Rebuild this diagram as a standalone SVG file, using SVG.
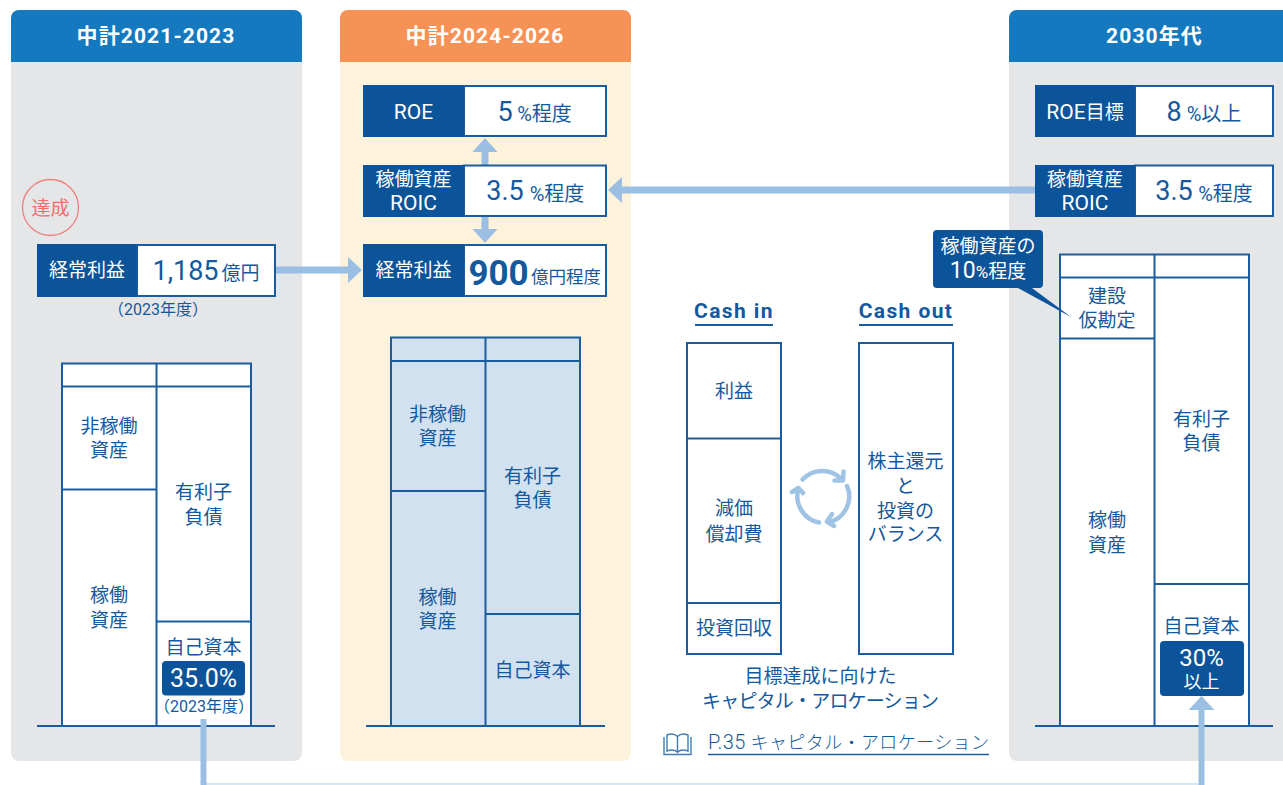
<svg xmlns="http://www.w3.org/2000/svg" width="1283" height="785" viewBox="0 0 1283 785">
<style>
text{font-family:Roboto,"Noto Sans CJK JP",sans-serif;fill:#14599e;text-anchor:middle}
.hd{font-size:21px;font-weight:700;fill:#fff;letter-spacing:1.1px}
.w{fill:#fff;font-size:19px}
.lat{font-size:21px}
.t{font-size:19px}
.big{font-size:27px}
.u{font-size:20px}
.s{font-size:16px}
.ch{font-size:21px;font-weight:700;letter-spacing:1.4px}
.dark{fill:#0c5499}
.box{fill:#fff;stroke:#1a5c9e;stroke-width:2}
.ln{stroke:#1a5c9e;stroke-width:2;fill:none}
.ar{stroke:#9abfe2;stroke-width:7;fill:none}
.af{fill:#9abfe2}
.cy{stroke:#9fc3e4;stroke-width:4.5;fill:none;stroke-linecap:round;stroke-linejoin:round}
</style>
<rect width="1283" height="785" fill="#fff"/>
<g id="panel-2021">
<rect x="11" y="10" width="291" height="751" rx="8" fill="#e5e6e8"/>
<path d="M11 62V18a8 8 0 0 1 8-8H294a8 8 0 0 1 8 8V62Z" fill="#1579bf"/>
<text class="hd" x="156" y="43">中計2021-2023</text>
</g>
<g id="panel-2024">
<rect x="340" y="10" width="291" height="751" rx="8" fill="#fdf2dc"/>
<path d="M340 62V18a8 8 0 0 1 8-8H623a8 8 0 0 1 8 8V62Z" fill="#f79256"/>
<text class="hd" x="485" y="43">中計2024-2026</text>
</g>
<g id="panel-2030">
<path d="M1283 10H1017a8 8 0 0 0-8 8V753a8 8 0 0 0 8 8H1283Z" fill="#e5e6e8"/>
<path d="M1009 62V18a8 8 0 0 1 8-8H1283V62Z" fill="#1579bf"/>
<text class="hd" x="1154.500" y="43">2030年代</text>
</g>
<g id="connectors">
<path class="ar" d="M275 270H350"/><path class="af" d="M362 270L348 257V283Z"/>
<path class="ar" d="M1035 190H620"/><path class="af" d="M608 190L622 177V203Z"/>
<path class="ar" d="M485 165V150"/><path class="af" d="M485 138L472.500 152H497.500Z"/>
<path class="ar" d="M485 217V231"/><path class="af" d="M485 243L472.500 229H497.500Z"/>
<path d="M206 784H1199" stroke="#d6e6f5" stroke-width="2" fill="none"/>
</g>
<g id="tassei">
<circle cx="50.500" cy="207.500" r="28" fill="none" stroke="#f08080" stroke-width="1.300"/>
<text x="50.500" y="215" font-size="19" style="fill:#ee6f6f">達成</text>
</g>
<g id="kpi-keijo-2023">
<rect class="box" x="137" y="245" width="138" height="51"/><rect class="dark" x="37" y="244" width="100" height="53"/>
<text class="w" x="87" y="276.500">経常利益</text>
<text class="big" x="185.500" y="280">1,185</text><text class="t" x="240.500" y="280">億円</text>
<text class="s" x="158" y="315">（2023年度）</text>
</g>
<g id="kpi-roe-2024">
<rect class="box" x="464" y="86" width="142" height="50"/><rect class="dark" x="363" y="85" width="101" height="52"/>
<text class="w lat" x="413.500" y="119">ROE</text>
<text class="big" x="505" y="121">5</text><text class="u" x="544.500" y="121">%程度</text>
</g>
<g id="kpi-roic-2024">
<rect class="box" x="464" y="165.500" width="142" height="50.500"/><rect class="dark" x="363" y="165" width="101" height="52"/>
<text class="w" x="413.500" y="185.500">稼働資産</text><text class="w lat" x="413.500" y="210">ROIC</text>
<text class="big" x="505" y="200">3.5</text><text class="u" x="557" y="201">%程度</text>
</g>
<g id="kpi-keijo-2024">
<rect class="box" x="464" y="245" width="142" height="51"/><rect class="dark" x="363" y="244" width="101" height="53"/>
<text class="w" x="413.500" y="276.500">経常利益</text>
<text x="498.500" y="285" font-size="35" font-weight="700">900</text><text x="566" y="283" font-size="17.500">億円程度</text>
</g>
<g id="kpi-roe-2030">
<rect class="box" x="1135" y="86" width="138" height="50"/><rect class="dark" x="1035" y="85" width="100" height="52"/>
<text class="w" x="1085" y="118.500"><tspan class="lat">ROE</tspan>目標</text>
<text class="big" x="1174" y="121">8</text><text class="u" x="1214" y="121">%以上</text>
</g>
<g id="kpi-roic-2030">
<rect class="box" x="1135" y="165.500" width="138" height="50.500"/><rect class="dark" x="1035" y="165" width="100" height="52"/>
<text class="w" x="1085" y="185.500">稼働資産</text><text class="w lat" x="1085" y="210">ROIC</text>
<text class="big" x="1174" y="200">3.5</text><text class="u" x="1225.500" y="201">%程度</text>
</g>
<g id="bs-2021">
<rect class="box" x="62" y="363.500" width="189" height="362.500"/>
<path class="ln" d="M156.500 363V726M62 386.500H251M62 489.500H156.500M156.500 621.500H251M37 726H275"/>
<text class="t" x="109" y="433">非稼働</text><text class="t" x="109" y="457">資産</text>
<text class="t" x="109" y="602">稼働</text><text class="t" x="109" y="627">資産</text>
<text class="t" x="203.500" y="499">有利子</text><text class="t" x="203.500" y="523.500">負債</text>
<text class="t" x="203.500" y="653.500">自己資本</text>
<rect class="dark" x="162" y="661" width="83" height="34.500" rx="4"/>
<text x="203.500" y="687" font-size="25" style="fill:#fff">35.0%</text>
<text class="s" x="204" y="712">（2023年度）</text>
<path class="ar" d="M203.500 719V785" style="stroke-width:6"/>
</g>
<g id="bs-2024">
<rect x="391" y="337.500" width="189" height="388.500" fill="#d2e1f0" stroke="#1a5c9e" stroke-width="2"/>
<path class="ln" d="M485.500 337V726M391 361H580M391 491H485.500M485.500 614H580M366 726H605"/>
<text class="t" x="437.500" y="421">非稼働</text><text class="t" x="437.500" y="445">資産</text>
<text class="t" x="437.500" y="604">稼働</text><text class="t" x="437.500" y="628">資産</text>
<text class="t" x="532.500" y="482.500">有利子</text><text class="t" x="532.500" y="507">負債</text>
<text class="t" x="532.500" y="676.500">自己資本</text>
</g>
<g id="bs-2030">
<rect class="box" x="1060" y="254.500" width="189" height="471.500"/>
<path class="ln" d="M1154.500 254V726M1060 277.500H1249M1060 338.500H1154.500M1154.500 584H1249M1035 726H1273"/>
<text class="t" x="1107" y="303">建設</text><text class="t" x="1107" y="327">仮勘定</text>
<text class="t" x="1107" y="526.500">稼働</text><text class="t" x="1107" y="551.500">資産</text>
<text class="t" x="1201.500" y="425.500">有利子</text><text class="t" x="1201.500" y="450">負債</text>
<text class="t" x="1201.500" y="633">自己資本</text>
<rect class="dark" x="1160" y="641" width="84" height="55" rx="4"/>
<text x="1201.500" y="666" font-size="24" style="fill:#fff">30%</text>
<text x="1201.500" y="688" class="w" style="font-size:18px">以上</text>
<path class="ar" d="M1201.500 708V785" style="stroke-width:6"/><path class="af" d="M1201.500 696L1188.500 710H1214.500Z"/>
</g>
<g id="callout">
<path class="dark" d="M937 230H1039a4 4 0 0 1 4 4V284a4 4 0 0 1-4 4H1032L1071 317 1018 288H937a4 4 0 0 1-4-4V234a4 4 0 0 1 4-4Z"/>
<text class="w" x="988" y="252.500">稼働資産の</text><text class="w" x="988" y="277.500"><tspan style="font-size:23px">10</tspan><tspan style="font-size:17px">%</tspan>程度</text>
</g>
<g id="cash-in">
<text class="ch" x="734" y="318">Cash in</text>
<path class="ln" d="M695 325H773"/>
<rect class="box" x="687" y="343" width="94" height="311"/>
<path class="ln" d="M687 438.500H781M687 603H781"/>
<text class="t" x="734" y="398">利益</text>
<text class="t" x="734" y="515">減価</text><text class="t" x="734" y="540.500">償却費</text>
<text class="t" x="734" y="635">投資回収</text>
</g>
<g id="cash-out">
<text class="ch" x="906" y="317.500">Cash out</text>
<path class="ln" d="M859 325H953"/>
<rect class="box" x="859" y="343" width="94" height="311"/>
<text class="t" x="905.500" y="468">株主還元</text><text class="t" x="905.500" y="493">と</text><text class="t" x="905.500" y="518">投資の</text><text class="t" x="905.500" y="541">バランス</text>
</g>
<g id="cycle">
<path class="cy" d="M802.500 479.500A27 27 0 0 1 841 478.500M843.500 471.500L843 480.500 834.500 480.500"/>
<path class="cy" d="M847 486A26.500 26.500 0 0 1 828 522.500M832 514L827 521.500 834 526"/>
<path class="cy" d="M819 522.500A27 27 0 0 1 798 490M792 492L798.500 488 803 493"/>
</g>
<g id="caption">
<text class="t" x="820.500" y="683">目標達成に向けた</text>
<text class="t" x="820.500" y="708" textLength="237">キャピタル・アロケーション</text>
</g>
<g id="link">
<path d="M664 737V754.500H691V737M667 735C671 733.500 675 734 677.500 736.500V752C675 750 671 749.500 667 751ZM688 735C684 733.500 680 734 677.500 736.500V752C680 750 684 749.500 688 751Z" fill="none" stroke="#3f7cb5" stroke-width="1.400"/>
<text x="708" y="748.500" font-size="18" font-weight="300" style="text-anchor:start" textLength="281"><tspan font-size="20">P.35</tspan> キャピタル・アロケーション</text>
<path d="M708 754.500H989" stroke="#1a5c9e" stroke-width="1.300"/>
</g>
</svg>
